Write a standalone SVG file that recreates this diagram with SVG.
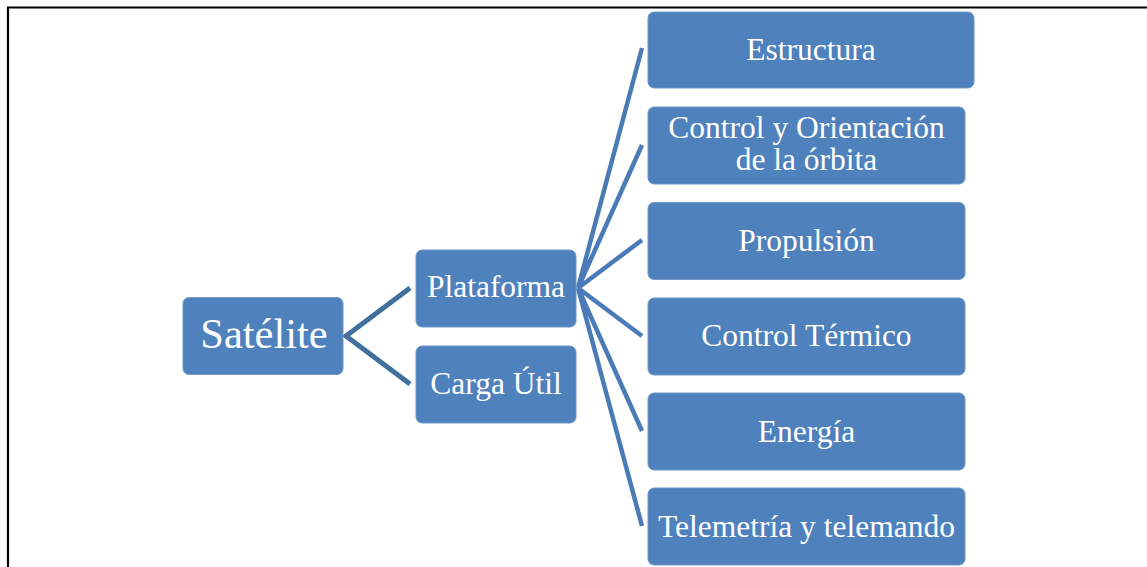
<svg xmlns="http://www.w3.org/2000/svg" width="1147" height="567" viewBox="0 0 1147 567">
<style>
.box{fill:#4f81bd;stroke:#6f97c9;stroke-width:1}
.t{fill:#ffffff;text-anchor:middle}
.l1{stroke:#41709f;stroke-width:5;fill:none;stroke-linecap:butt}
.l2{stroke:#4a7bb7;stroke-width:4.5;fill:none;stroke-linecap:butt}
</style>
<rect width="1147" height="567" fill="#ffffff"/>
<g id="frame"><path d="M8 567 V7.5 H1147" fill="none" stroke="#000000" stroke-width="2.2"/></g>
<g id="connectors">
<polyline class="l1" points="410,288 346,336 410,384"/>
<path class="l2" d="M578 288 L642 48 M578 288 L642 145 M578 288 L642 240 M578 288 L642 336 M578 288 L642 431 M578 288 L642 526"/>
</g>
<g id="nodes" font-family="Liberation Serif" font-size="31.5">
<g id="n-satelite"><rect class="box" x="183" y="297.5" width="160" height="77" rx="6"/><text class="t" x="264" y="348" font-size="42.5">Satélite</text></g>
<g id="n-plataforma"><rect class="box" x="416" y="250" width="160" height="77" rx="6"/><text class="t" x="496" y="297">Plataforma</text></g>
<g id="n-carga"><rect class="box" x="416" y="346" width="160" height="77" rx="6"/><text class="t" x="496" y="394">Carga Útil</text></g>
<g id="n-estructura"><rect class="box" x="648" y="12" width="326" height="76" rx="6"/><text class="t" x="811" y="60">Estructura</text></g>
<g id="n-control"><rect class="box" x="648" y="107" width="317" height="77" rx="6"/><text class="t" x="806.5" y="138">Control y Orientación</text><text class="t" x="806.5" y="170">de la órbita</text></g>
<g id="n-propulsion"><rect class="box" x="648" y="202.5" width="317" height="77" rx="6"/><text class="t" x="806.5" y="251">Propulsión</text></g>
<g id="n-termico"><rect class="box" x="648" y="298" width="317" height="77" rx="6"/><text class="t" x="806.5" y="346">Control Térmico</text></g>
<g id="n-energia"><rect class="box" x="648" y="393" width="317" height="77" rx="6"/><text class="t" x="806.5" y="442">Energía</text></g>
<g id="n-telemetria"><rect class="box" x="648" y="488" width="317" height="77" rx="6"/><text class="t" x="806.5" y="537">Telemetría y telemando</text></g>
</g>
</svg>
